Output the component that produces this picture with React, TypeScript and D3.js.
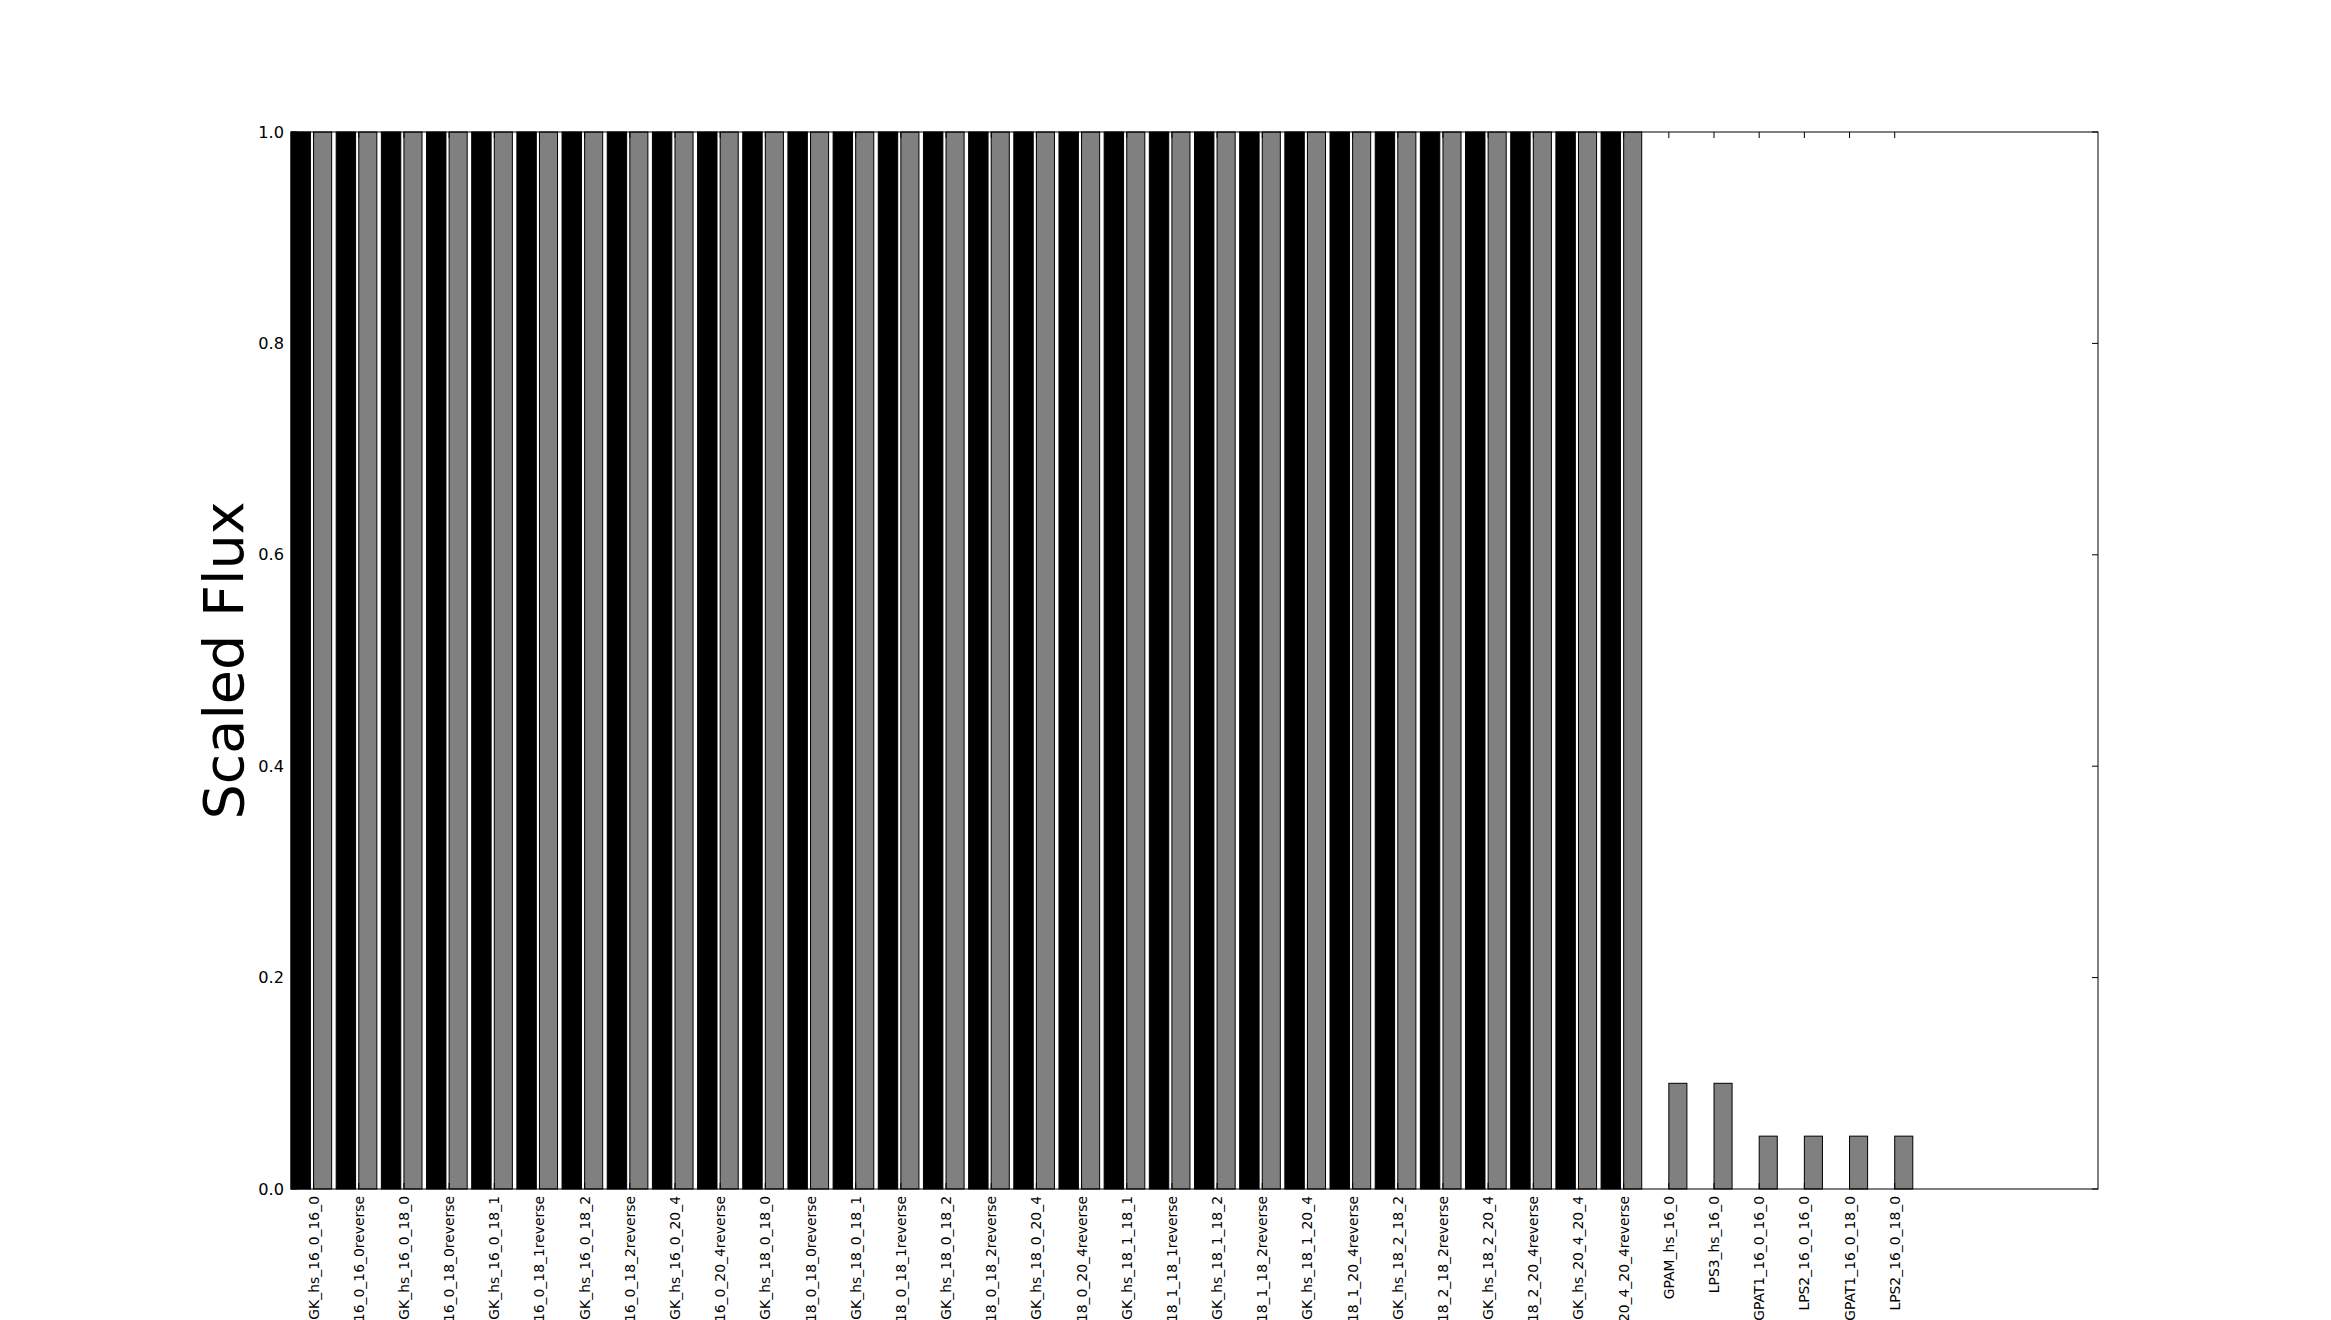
import React from "react";
import * as d3 from "d3";

const categories: string[] = [
  "GK_hs_16_0_16_0", "GK_hs_16_0_16_0reverse", "GK_hs_16_0_18_0", "GK_hs_16_0_18_0reverse",
  "GK_hs_16_0_18_1", "GK_hs_16_0_18_1reverse", "GK_hs_16_0_18_2", "GK_hs_16_0_18_2reverse",
  "GK_hs_16_0_20_4", "GK_hs_16_0_20_4reverse", "GK_hs_18_0_18_0", "GK_hs_18_0_18_0reverse",
  "GK_hs_18_0_18_1", "GK_hs_18_0_18_1reverse", "GK_hs_18_0_18_2", "GK_hs_18_0_18_2reverse",
  "GK_hs_18_0_20_4", "GK_hs_18_0_20_4reverse", "GK_hs_18_1_18_1", "GK_hs_18_1_18_1reverse",
  "GK_hs_18_1_18_2", "GK_hs_18_1_18_2reverse", "GK_hs_18_1_20_4", "GK_hs_18_1_20_4reverse",
  "GK_hs_18_2_18_2", "GK_hs_18_2_18_2reverse", "GK_hs_18_2_20_4", "GK_hs_18_2_20_4reverse",
  "GK_hs_20_4_20_4", "GK_hs_20_4_20_4reverse", "GPAM_hs_16_0", "LPS3_hs_16_0",
  "GPAT1_16_0_16_0", "LPS2_16_0_16_0", "GPAT1_16_0_18_0", "LPS2_16_0_18_0",
];

const blackValues: number[] = [
  1, 1, 1, 1, 1, 1, 1, 1, 1, 1, 1, 1, 1, 1, 1, 1, 1, 1, 1, 1, 1, 1, 1, 1, 1, 1, 1, 1, 1, 1,
  0, 0, 0, 0, 0, 0,
];

const grayValues: number[] = [
  1, 1, 1, 1, 1, 1, 1, 1, 1, 1, 1, 1, 1, 1, 1, 1, 1, 1, 1, 1, 1, 1, 1, 1, 1, 1, 1, 1, 1, 1,
  0.1, 0.1, 0.05, 0.05, 0.05, 0.05,
];

const yTicks: number[] = [0, 0.2, 0.4, 0.6, 0.8, 1.0];
const xDomain: [number, number] = [0, 40];
const yLabel = "Scaled Flux";

const W = 2331;
const H = 1320;
const left = 291;
const right = 2098;
const top = 132;
const bottom = 1189;

const blackWidth = 0.43;
const grayOffset = 0.5;
const grayWidth = 0.4;

export default function App() {
  const x = d3.scaleLinear().domain(xDomain).range([left, right]);
  const y = d3.scaleLinear().domain([0, 1]).range([bottom, top]);
  const font = "'DejaVu Sans', sans-serif";
  const tickLen = 6;

  return (
    <svg
      width={W}
      height={H}
      style={{ position: "absolute", left: 0, top: 0, display: "block", background: "#fff" }}
      xmlns="http://www.w3.org/2000/svg"
    >
      <rect x={0} y={0} width={W} height={H} fill="#fff" />
      {blackValues.map((v, i) => (
        <rect
          key={"b" + i}
          x={x(i)}
          y={y(v)}
          width={x(i + blackWidth) - x(i)}
          height={y(0) - y(v)}
          fill="#000"
          stroke="#000"
          strokeWidth={1}
        />
      ))}
      {grayValues.map((v, i) => (
        <rect
          key={"g" + i}
          x={x(i + grayOffset)}
          y={y(v)}
          width={x(i + grayOffset + grayWidth) - x(i + grayOffset)}
          height={y(0) - y(v)}
          fill="#808080"
          stroke="#000"
          strokeWidth={1}
        />
      ))}
      {/* frame */}
      <rect x={left} y={top} width={right - left} height={bottom - top} fill="none" stroke="#000" strokeWidth={1} />
      {/* x ticks */}
      {categories.map((c, i) => {
        const tx = x(i + grayOffset);
        return (
          <g key={"xt" + i}>
            <line x1={tx} x2={tx} y1={top} y2={top + tickLen} stroke="#000" strokeWidth={1} />
            <line x1={tx} x2={tx} y1={bottom} y2={bottom - tickLen} stroke="#000" strokeWidth={1} />
            <text
              transform={`translate(${tx},${bottom + 7}) rotate(-90)`}
              textAnchor="end"
              dominantBaseline="central"
              fontFamily={font}
              fontSize={13.9}
              fill="#000"
            >
              {c}
            </text>
          </g>
        );
      })}
      {/* y ticks */}
      {yTicks.map((t) => (
        <g key={"yt" + t}>
          <line x1={left} x2={left + tickLen} y1={y(t)} y2={y(t)} stroke="#000" strokeWidth={1} />
          <line x1={right} x2={right - tickLen} y1={y(t)} y2={y(t)} stroke="#000" strokeWidth={1} />
          <text
            x={left - 7}
            y={y(t)}
            textAnchor="end"
            dominantBaseline="central"
            fontFamily={font}
            fontSize={16.2}
            fill="#000"
          >
            {d3.format(".1f")(t)}
          </text>
        </g>
      ))}
      <text
        transform={`translate(243,${(top + bottom) / 2}) rotate(-90)`}
        textAnchor="middle"
        fontFamily={font}
        fontSize={55.6}
        fill="#000"
      >
        {yLabel}
      </text>
    </svg>
  );
}
